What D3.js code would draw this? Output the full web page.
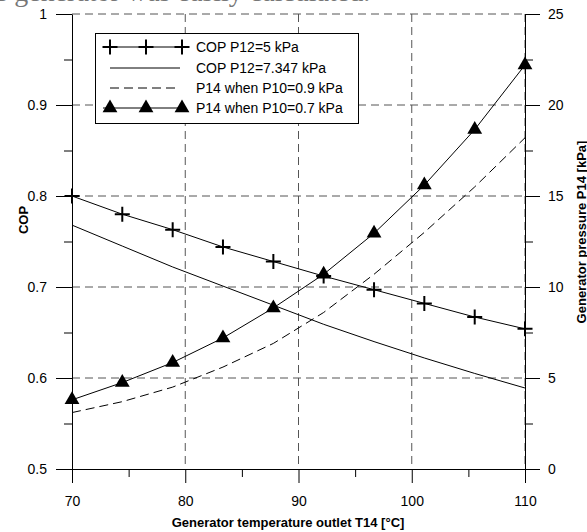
<!DOCTYPE html>
<html><head><meta charset="utf-8">
<script src="https://cdn.jsdelivr.net/npm/d3@7/dist/d3.min.js"></script>
<style>
html,body{margin:0;padding:0;background:#fff;}
svg{display:block;}
text{font-family:"Liberation Sans",Arial,sans-serif;}
</style></head>
<body>
<svg id="chart" width="587" height="532"></svg>
<script>
// ---- data ----
const temps = [70, 74.44, 78.89, 83.33, 87.78, 92.22, 96.67, 101.11, 105.56, 110];
const copP12_5 = [0.800, 0.780, 0.763, 0.744, 0.728, 0.712, 0.697, 0.682, 0.667, 0.654];
const copP12_7347 = [0.768, 0.745, 0.722, 0.701, 0.680, 0.659, 0.640, 0.622, 0.605, 0.589];
const p14_P10_09 = [3.1, 3.7, 4.5, 5.6, 6.9, 8.6, 10.7, 13.0, 15.5, 18.2];
const p14_P10_07 = [3.8, 4.75, 5.85, 7.2, 8.85, 10.7, 12.95, 15.6, 18.65, 22.2];
const xTicks = [70, 80, 90, 100, 110];
const xMinor = [75, 85, 95, 105];
const yLeftTicks = [0.5, 0.6, 0.7, 0.8, 0.9, 1];
const yLeftMinor = [0.55, 0.65, 0.75, 0.85, 0.95];
const yRightTicks = [0, 5, 10, 15, 20, 25];
const yRightMinor = [2.5, 7.5, 12.5, 17.5, 22.5];
const legendLabels = ["COP P12=5 kPa", "COP P12=7.347 kPa", "P14 when P10=0.9 kPa", "P14 when P10=0.7 kPa"];
const xTitle = "Generator temperature outlet T14 [°C]";
const yLeftTitle = "COP";
const yRightTitle = "Generator pressure P14 [kPa]";
const topFragment = "the generator was easily calculated.";

const svg = d3.select("#chart");
const L = 72, R = 525, T = 14, B = 469;
const x = d3.scaleLinear().domain([70, 110]).range([L, R]);
const yL = d3.scaleLinear().domain([0.5, 1]).range([B, T]);
const yR = d3.scaleLinear().domain([0, 25]).range([B, T]);

// cut-off text line from the page above (only its bottom edge shows)
svg.append("text").attr("x", -27).attr("y", 1)
  .style("font-family", "'Liberation Serif','Times New Roman',serif")
  .style("font-size", "28px").attr("fill", "#777").text(topFragment);

// grid
const gridColor = "#555";
const g = svg.append("g");
g.selectAll(".gx").data(xTicks.filter(d => d > 70)).join("line")
  .attr("x1", d => x(d)).attr("x2", d => x(d)).attr("y1", T).attr("y2", B)
  .attr("stroke", gridColor).attr("stroke-width", 1).attr("stroke-dasharray", "8,5");
g.selectAll(".gy").data(yLeftTicks.filter(d => d > 0.5)).join("line")
  .attr("x1", L).attr("x2", R).attr("y1", d => yL(d)).attr("y2", d => yL(d))
  .attr("stroke", gridColor).attr("stroke-width", 1).attr("stroke-dasharray", "8,5");

// axes
function styleAxis(sel){
  sel.selectAll("path,line").attr("stroke", "#000").attr("stroke-width", 1);
  sel.selectAll("text").style("font-size", "14px").attr("fill", "#000");
}
const axB = svg.append("g").attr("transform", `translate(0,${B})`)
  .call(d3.axisBottom(x).tickValues(xTicks).tickSize(14).tickSizeOuter(0).tickPadding(13).tickFormat(d3.format("d")));
styleAxis(axB);
const axBm = svg.append("g").attr("transform", `translate(0,${B})`)
  .call(d3.axisBottom(x).tickValues(xMinor).tickSize(8).tickFormat(""));
styleAxis(axBm); axBm.select(".domain").remove();

const axL = svg.append("g").attr("transform", `translate(${L},0)`)
  .call(d3.axisLeft(yL).tickValues(yLeftTicks).tickSize(16).tickSizeOuter(0).tickPadding(9).tickFormat(d => d3.format("")(+d.toFixed(1))));
styleAxis(axL);
const axLm = svg.append("g").attr("transform", `translate(${L},0)`)
  .call(d3.axisLeft(yL).tickValues(yLeftMinor).tickSize(8).tickFormat(""));
styleAxis(axLm); axLm.select(".domain").remove();

const axR = svg.append("g").attr("transform", `translate(${R},0)`)
  .call(d3.axisRight(yR).tickValues(yRightTicks).tickSize(15).tickSizeOuter(0).tickPadding(8).tickFormat(d3.format("d")));
styleAxis(axR);
const axRm = svg.append("g").attr("transform", `translate(${R},0)`)
  .call(d3.axisRight(yR).tickValues(yRightMinor).tickSize(8).tickFormat(""));
styleAxis(axRm); axRm.select(".domain").remove();

// axis titles
svg.append("text").attr("x", 288).attr("y", 527).attr("text-anchor", "middle")
  .style("font-size", "13px").style("font-weight", "bold").text(xTitle);
svg.append("text").attr("transform", "translate(27.5,220) rotate(-90)").attr("text-anchor", "middle")
  .style("font-size", "13px").style("font-weight", "bold").text(yLeftTitle);
svg.append("text").attr("transform", "translate(586,232) rotate(-90)").attr("text-anchor", "middle")
  .style("font-size", "13px").style("font-weight", "bold").text(yRightTitle);

// series
const lineL = d3.line().x(d => x(d[0])).y(d => yL(d[1]));
const lineR = d3.line().x(d => x(d[0])).y(d => yR(d[1]));
const s1 = temps.map((t, i) => [t, copP12_5[i]]);
const s2 = temps.map((t, i) => [t, copP12_7347[i]]);
const s3 = temps.map((t, i) => [t, p14_P10_09[i]]);
const s4 = temps.map((t, i) => [t, p14_P10_07[i]]);

svg.append("path").attr("d", lineL(s2)).attr("fill", "none").attr("stroke", "#000").attr("stroke-width", 1);
svg.append("path").attr("d", lineR(s3)).attr("fill", "none").attr("stroke", "#000").attr("stroke-width", 1).attr("stroke-dasharray", "9,5");
svg.append("path").attr("d", lineL(s1)).attr("fill", "none").attr("stroke", "#000").attr("stroke-width", 1);
svg.append("path").attr("d", lineR(s4)).attr("fill", "none").attr("stroke", "#000").attr("stroke-width", 1);

function plus(sel, cx, cy){
  sel.append("path").attr("d", `M${cx-7.5},${cy}H${cx+7.5}M${cx},${cy-7.5}V${cy+7.5}`)
    .attr("stroke", "#000").attr("stroke-width", 2).attr("fill", "none");
}
function tri(sel, cx, cy){
  sel.append("path").attr("d", d3.symbol().type(d3.symbolTriangle).size(95)())
    .attr("transform", `translate(${cx},${cy})`).attr("fill", "#000");
}
const mk = svg.append("g");
s1.forEach(d => plus(mk, x(d[0]), yL(d[1])));
s4.forEach(d => tri(mk, x(d[0]), yR(d[1])));

// legend
const lg = svg.append("g");
lg.append("rect").attr("x", 95.5).attr("y", 33.5).attr("width", 263).attr("height", 90)
  .attr("fill", "#fff").attr("stroke", "#000").attr("stroke-width", 1);
const rowY = [47, 68, 88, 108];
const sx1 = 103, sx2 = 183, tx = 196;
lg.append("line").attr("x1", sx1).attr("x2", sx2).attr("y1", rowY[0]).attr("y2", rowY[0]).attr("stroke", "#000");
[110, 146, 182].forEach(cx => plus(lg, cx, rowY[0]));
lg.append("line").attr("x1", 110).attr("x2", 180).attr("y1", rowY[1]).attr("y2", rowY[1]).attr("stroke", "#000");
lg.append("line").attr("x1", 110).attr("x2", 180).attr("y1", rowY[2]).attr("y2", rowY[2]).attr("stroke", "#000").attr("stroke-dasharray", "9,5");
lg.append("line").attr("x1", sx1).attr("x2", sx2).attr("y1", rowY[3]).attr("y2", rowY[3]).attr("stroke", "#000");
[110, 146, 182].forEach(cx => tri(lg, cx, rowY[3]));
lg.selectAll(".lt").data(legendLabels).join("text")
  .attr("x", tx).attr("y", (d, i) => rowY[i] + 5).style("font-size", "14px").attr("fill", "#000").text(d => d);
</script>
</body></html>
